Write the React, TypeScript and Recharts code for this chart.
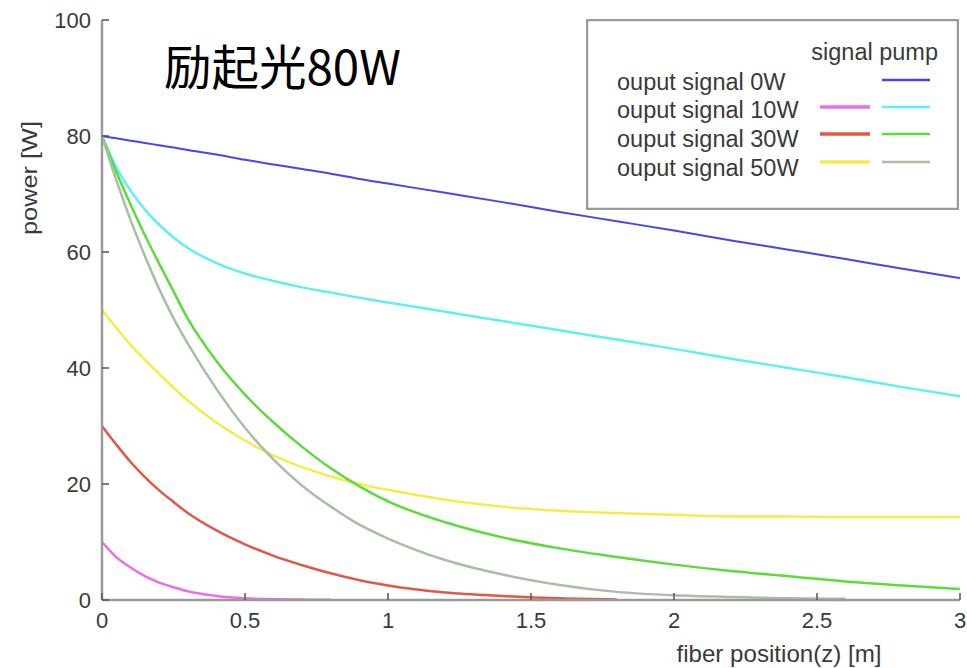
import React from "react"
import { LineChart, Line, XAxis, YAxis, Legend } from "recharts"

// fiber position z [m]
const zPos = [0, 0.05, 0.1, 0.15, 0.2, 0.25, 0.3, 0.4, 0.5, 0.6, 0.7, 0.8, 0.9, 1.0, 1.2, 1.4, 1.6, 1.8, 2.0, 2.2, 2.4, 2.6, 2.8, 3.0]

// signal power [W]
const sig10 = [10, 7.4, 5.6, 4.1, 3.0, 2.2, 1.5, 0.7, 0.3, 0.15, 0.08, 0.05, null, null, null, null, null, null, null, null, null, null, null, null]
const sig30 = [30, 26.8, 23.8, 21.2, 18.9, 16.9, 15.0, 12.0, 9.6, 7.6, 6.0, 4.6, 3.4, 2.5, 1.3, 0.7, 0.3, 0.1, null, null, null, null, null, null]
const sig50 = [50, 46.9, 44.0, 41.4, 39.0, 36.6, 34.4, 30.6, 27.5, 24.9, 22.9, 21.3, 20.0, 19.0, 17.3, 16.1, 15.4, 15.0, 14.7, 14.4, 14.4, 14.3, 14.3, 14.3]

// pump power [W]
const pump0 = [80, 79.6, 79.2, 78.8, 78.4, 78.0, 77.6, 76.8, 75.9, 75.1, 74.3, 73.5, 72.6, 71.8, 70.2, 68.6, 66.9, 65.3, 63.7, 62.0, 60.4, 58.8, 57.1, 55.5]
const pump10 = [80, 74.6, 70.6, 67.3, 64.7, 62.5, 60.7, 58.1, 56.3, 55.0, 53.9, 53.0, 52.1, 51.3, 49.7, 48.1, 46.5, 44.9, 43.3, 41.6, 40.0, 38.4, 36.7, 35.1]
const pump30 = [80, 73.8, 68.2, 62.9, 58.0, 53.2, 48.5, 41.2, 35.4, 30.6, 26.4, 22.7, 19.6, 17.0, 13.4, 10.8, 8.9, 7.4, 6.1, 5.0, 4.1, 3.2, 2.5, 1.9]
const pump50 = [80, 72.4, 65.5, 59.3, 53.6, 48.6, 44.2, 36.4, 29.7, 24.2, 19.7, 16.1, 13.0, 10.6, 6.9, 4.4, 2.6, 1.4, 0.8, 0.5, 0.3, 0.2, null, null]

const xTicks = [0, 0.5, 1, 1.5, 2, 2.5, 3]
const yTicks = [0, 20, 40, 60, 80, 100]

const legendRows = ["ouput signal 0W", "ouput signal 10W", "ouput signal 30W", "ouput signal 50W"]

const C = {
  pump0: "#4646ee",
  pump10: "#5ef0f4",
  pump30: "#5cdc3a",
  pump50: "#a8bfa4",
  sig10: "#ee6cf0",
  sig30: "#e0584a",
  sig50: "#f6ec48",
}

const data = zPos.map((z, i) => ({
  z,
  sig10: sig10[i],
  sig30: sig30[i],
  sig50: sig50[i],
  pump0: pump0[i],
  pump10: pump10[i],
  pump30: pump30[i],
  pump50: pump50[i],
}))

const FONT = "'Liberation Sans', Arial, Helvetica, sans-serif"
const AXIS = "#9a9a9a"
const TICK = "#555"
const LABEL = "#3a3a3a"

const BottomTick = (p: any) => (
  <g>
    <line x1={p.x} y1={p.y} x2={p.x} y2={p.y - 7} stroke={TICK} strokeWidth={1.5} />
    <text x={p.x} y={p.y + 28} textAnchor="middle" fontSize={22} fontFamily={FONT} fill={LABEL}>
      {p.payload.value}
    </text>
  </g>
)

const TopTick = (p: any) => (
  <line x1={p.x} y1={p.y} x2={p.x} y2={p.y + 7} stroke={TICK} strokeWidth={1.5} />
)

const LeftTick = (p: any) => (
  <g>
    <line x1={p.x} y1={p.y} x2={p.x + 7} y2={p.y} stroke={TICK} strokeWidth={1.5} />
    <text x={p.x - 11} y={p.y + 8} textAnchor="end" fontSize={22} fontFamily={FONT} fill={LABEL}>
      {p.payload.value}
    </text>
  </g>
)

const RightTick = (p: any) => (
  <line x1={p.x} y1={p.y} x2={p.x - 7} y2={p.y} stroke={TICK} strokeWidth={1.5} />
)

const signalColors = [null, C.sig10, C.sig30, C.sig50]
const pumpColors = [C.pump0, C.pump10, C.pump30, C.pump50]

function LegendBox() {
  const textY = [63, 91, 120, 149]
  const lineY = [61, 88, 115, 143]
  return (
    <svg width={373} height={191} style={{ display: "block" }}>
      <rect x={1} y={1} width={371} height={189} fill="#fff" stroke={AXIS} strokeWidth={2.5} />
      <text x={352} y={41} textAnchor="end" fontSize={23.5} fontFamily={FONT} fill={LABEL}>
        signal pump
      </text>
      {legendRows.map((label, i) => (
        <g key={label}>
          <text x={31} y={textY[i] + 8} fontSize={23.5} fontFamily={FONT} fill={LABEL}>
            {label}
          </text>
          {signalColors[i] && (
            <line x1={234} x2={284} y1={lineY[i]} y2={lineY[i]} stroke={signalColors[i] as string} strokeWidth={3.5} />
          )}
          <line x1={296} x2={344} y1={lineY[i]} y2={lineY[i]} stroke={pumpColors[i]} strokeWidth={2.5} />
        </g>
      ))}
    </svg>
  )
}

export default function App() {
  return (
    <div style={{ position: "absolute", left: 0, top: 0, width: 967, height: 668, background: "#fff" }}>
      <LineChart width={967} height={668} data={data} margin={{ top: 20, right: 7, bottom: 0, left: 0 }}>
        <XAxis
          xAxisId="b"
          dataKey="z"
          type="number"
          domain={[0, 3]}
          ticks={xTicks}
          height={68}
          tickSize={0}
          tickMargin={0}
          tick={<BottomTick />}
          axisLine={{ stroke: AXIS, strokeWidth: 2.5 }}
          interval={0}
        />
        <XAxis
          xAxisId="t"
          orientation="top"
          dataKey="z"
          type="number"
          domain={[0, 3]}
          ticks={xTicks}
          height={0}
          tickSize={0}
          tickMargin={0}
          tick={<TopTick />}
          axisLine={{ stroke: AXIS, strokeWidth: 2.5 }}
          interval={0}
        />
        <YAxis
          yAxisId="l"
          type="number"
          domain={[0, 100]}
          ticks={yTicks}
          width={102}
          tickSize={0}
          tickMargin={0}
          tick={<LeftTick />}
          axisLine={{ stroke: AXIS, strokeWidth: 2.5 }}
          interval={0}
        />
        <YAxis
          yAxisId="r"
          orientation="right"
          type="number"
          domain={[0, 100]}
          ticks={yTicks}
          width={0}
          tickSize={0}
          tickMargin={0}
          tick={<RightTick />}
          axisLine={{ stroke: AXIS, strokeWidth: 2.5 }}
          interval={0}
        />
        <Line xAxisId="b" yAxisId="l" type="monotone" dataKey="sig10" stroke={C.sig10} strokeWidth={2.5} dot={false} isAnimationActive={false} />
        <Line xAxisId="b" yAxisId="l" type="monotone" dataKey="sig30" stroke={C.sig30} strokeWidth={2.5} dot={false} isAnimationActive={false} />
        <Line xAxisId="b" yAxisId="l" type="monotone" dataKey="sig50" stroke={C.sig50} strokeWidth={2.5} dot={false} isAnimationActive={false} />
        <Line xAxisId="b" yAxisId="l" type="monotone" dataKey="pump0" stroke={C.pump0} strokeWidth={2} dot={false} isAnimationActive={false} />
        <Line xAxisId="b" yAxisId="l" type="monotone" dataKey="pump10" stroke={C.pump10} strokeWidth={2.5} dot={false} isAnimationActive={false} />
        <Line xAxisId="b" yAxisId="l" type="monotone" dataKey="pump30" stroke={C.pump30} strokeWidth={2.5} dot={false} isAnimationActive={false} />
        <Line xAxisId="b" yAxisId="l" type="monotone" dataKey="pump50" stroke={C.pump50} strokeWidth={2.5} dot={false} isAnimationActive={false} />
        <Legend
          layout="vertical"
          align="center"
          verticalAlign="middle"
          content={() => <LegendBox />}
          wrapperStyle={{ position: "absolute", left: 586, top: 19, width: 373, height: 191 }}
        />
      </LineChart>
      <svg width={967} height={668} style={{ position: "absolute", left: 0, top: 0, pointerEvents: "none" }}>
        <text x={164} y={85} fontSize={47.5} fontFamily="'Noto Sans CJK JP', 'Noto Sans', sans-serif" fill="#000">
          励起光80W
        </text>
        <text
          x={779}
          y={662}
          textAnchor="middle"
          fontSize={24}
          fontFamily={FONT}
          fill={LABEL}
          textLength={205}
          lengthAdjust="spacingAndGlyphs"
        >
          fiber position(z) [m]
        </text>
        <text
          transform="translate(37,178) rotate(-90)"
          textAnchor="middle"
          fontSize={22}
          fontFamily={FONT}
          fill={LABEL}
          textLength={114}
          lengthAdjust="spacingAndGlyphs"
        >
          power [W]
        </text>
      </svg>
    </div>
  )
}
